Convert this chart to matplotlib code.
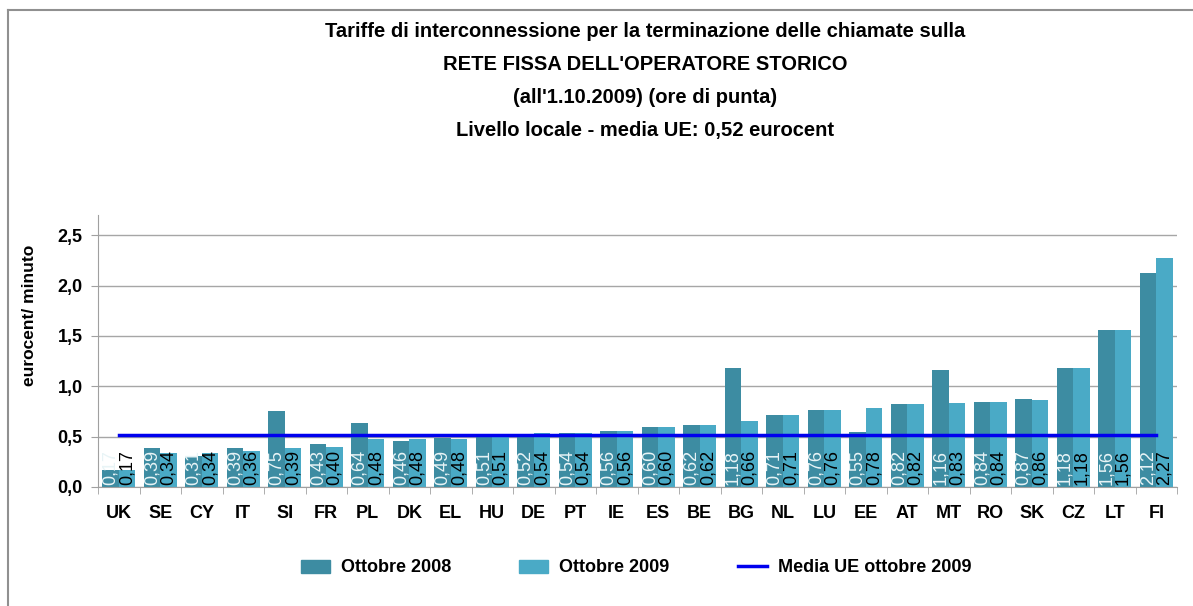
import matplotlib
matplotlib.use("Agg")
import matplotlib.pyplot as plt
from matplotlib.lines import Line2D
from matplotlib.patches import Patch
import numpy as np

plt.rcParams['font.family'] = ['Liberation Sans', 'DejaVu Sans']

categories = ["UK", "SE", "CY", "IT", "SI", "FR", "PL", "DK", "EL", "HU", "DE", "PT", "IE",
              "ES", "BE", "BG", "NL", "LU", "EE", "AT", "MT", "RO", "SK", "CZ", "LT", "FI"]
ott_2008 = [0.17, 0.39, 0.31, 0.39, 0.75, 0.43, 0.64, 0.46, 0.49, 0.51, 0.52, 0.54, 0.56,
            0.60, 0.62, 1.18, 0.71, 0.76, 0.55, 0.82, 1.16, 0.84, 0.87, 1.18, 1.56, 2.12]
ott_2009 = [0.17, 0.34, 0.34, 0.36, 0.39, 0.40, 0.48, 0.48, 0.48, 0.51, 0.54, 0.54, 0.56,
            0.60, 0.62, 0.66, 0.71, 0.76, 0.78, 0.82, 0.83, 0.84, 0.86, 1.18, 1.56, 2.27]
media_ue = 0.52
y_ticks = [0.0, 0.5, 1.0, 1.5, 2.0, 2.5]

title = ("Tariffe di interconnessione per la terminazione delle chiamate sulla\n"
         "RETE FISSA DELL'OPERATORE STORICO\n"
         "(all'1.10.2009) (ore di punta)\n"
         "Livello locale - media UE: 0,52 eurocent")

c08 = "#3d8ca2"
c09 = "#4aaac6"

fig = plt.figure(figsize=(11.93, 6.06), dpi=100)
ax = fig.add_axes([98/1193, 1-487/606, 1079/1193, 272/606])

x = np.arange(len(categories))
w = 0.40
ax.bar(x - w/2, ott_2008, w, color=c08, zorder=2, label="Ottobre 2008")
ax.bar(x + w/2, ott_2009, w, color=c09, zorder=2, label="Ottobre 2009")
ax.plot([x[0], x[-1]], [media_ue, media_ue], color="#0000ee", lw=2.5, zorder=3,
        label="Media UE ottobre 2009")

def fmt(v):
    return f"{v:.2f}".replace(".", ",")

for xi, v in zip(x, ott_2008):
    ax.text(xi - w/2, 0.02, fmt(v), rotation=90, ha="center", va="bottom",
            color="#e8f4f6", fontsize=13, zorder=4)
for xi, v in zip(x, ott_2009):
    ax.text(xi + w/2, 0.02, fmt(v), rotation=90, ha="center", va="bottom",
            color="black", fontsize=13, zorder=4)

ax.set_xlim(-0.5, len(categories) - 0.5)
ax.set_ylim(0, 2.7)
ax.set_yticks(y_ticks)
ax.set_yticklabels([f"{t:.1f}".replace(".", ",") for t in y_ticks],
                   fontsize=13, fontweight="bold")
ax.yaxis.grid(True, color="#a6a6a6", lw=1, zorder=0)
ax.set_axisbelow(True)

ax.set_xticks(x)
ax.set_xticklabels(categories, fontsize=13, fontweight="bold")
ax.tick_params(axis="x", length=0, pad=13)
ax.set_xticks(np.arange(-0.5, len(categories)), minor=True)
ax.tick_params(axis="x", which="minor", length=5, color="#a0a0a0")
ax.tick_params(axis="y", length=5, color="#a0a0a0", pad=6)

for s in ["top", "right"]:
    ax.spines[s].set_visible(False)
for s in ["left", "bottom"]:
    ax.spines[s].set_color("#a0a0a0")

fig.text(30/1193, 1-315/606, "eurocent/ minuto", rotation=90, ha="center", va="center",
         fontsize=12.5, fontweight="bold")

fig.text(645/1193, 1-81/606, title, ha="center", va="center", fontsize=14.5,
         fontweight="bold", linespacing=1.95)

handles = [Patch(color=c08), Patch(color=c09), Line2D([], [], color="#0000ee", lw=2.5)]
labels = ["Ottobre 2008", "Ottobre 2009", "Media UE ottobre 2009"]
fig.legend(handles, labels, loc="center", bbox_to_anchor=(636/1193, 1-568/606),
           ncol=3, frameon=False, prop={"size": 13, "weight": "bold"},
           columnspacing=3.8, handlelength=1.6, handletextpad=0.6)

# outer frame (top and left visible)
fig.add_artist(Line2D([8/1193, 8/1193], [0, 1-10/606], color="#909090", lw=1.5,
                      transform=fig.transFigure))
fig.add_artist(Line2D([8/1193, 1], [1-10/606, 1-10/606], color="#909090", lw=1.5,
                      transform=fig.transFigure))

fig.savefig("out.png", dpi=100)
